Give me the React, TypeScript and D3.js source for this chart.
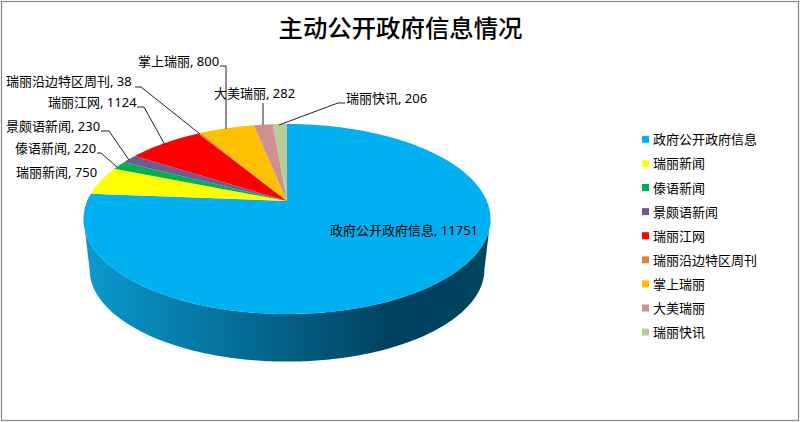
import React from "react";
import * as d3 from "d3";

const categories = ["政府公开政府信息", "瑞丽新闻", "傣语新闻", "景颇语新闻", "瑞丽江网", "瑞丽沿边特区周刊", "掌上瑞丽", "大美瑞丽", "瑞丽快讯"];
const values = [11751, 750, 220, 230, 1124, 38, 800, 282, 206];
const colors = ["#00B0F0", "#FFFF00", "#00B050", "#6F5A92", "#FF0000", "#DD8640", "#FFC000", "#CC9292", "#B9CD96"];
const title = "主动公开政府信息情况";

const labelX = [330, 16, 15, 6, 48, 6, 138, 214, 346];
const labelY = [230, 171.5, 148, 126, 101.5, 81, 60.5, 93, 98];
const leaderPts: ([number, number][] | null)[] = [
  null,
  null,
  [[97, 153], [101, 153]],
  [[101, 131], [109, 131]],
  [[137, 107], [144, 107]],
  [[135, 87], [141, 87]],
  [[220, 66], [226, 66]],
  [[263, 103]],
  [[345, 103], [338, 103]],
];
const leaderEnd: ([number, number] | null)[] = [null, null, [117, 167], [129, 160], [165, 145], [200, 134], [226, 129], [263, 125], [279, 125]];

const FONT = '"Noto Sans","Noto Sans CJK SC",sans-serif';
const CX = 287;
const CY = 201;
const K = 36 / 190;
const A = 91.6;
const B = 199.8;

// Perspective projection of the unit disc; angle runs clockwise from 12 o'clock.
const project = (a: number, r = 1, dy = 0, s = 1): [number, number] => {
  const u = r * Math.sin(a);
  const v = r * Math.cos(a);
  const w = 1 + K * v;
  return [CX + (s * B * u) / w, CY + dy + (s * A * v * -1) / w];
};

const pie = d3.pie<number>().sort(null).value((d) => d)(values);
const line = d3.line<[number, number]>();

const slicePath = (start: number, end: number) => {
  const n = Math.max(2, Math.ceil((end - start) / 0.01));
  const pts: [number, number][] = [[CX, CY]];
  for (let i = 0; i <= n; i++) pts.push(project(start + ((end - start) * i) / n));
  return line(pts) + "Z";
};

// Side wall: front half of the top rim, then back along the lower rim.
const a0 = Math.PI / 2 + Math.asin(K);
const a1 = (3 * Math.PI) / 2 - Math.asin(K);
const angles = d3.range(0, 201).map((i) => a0 + ((a1 - a0) * i) / 200);
const wall = line([
  ...angles.map((a) => project(a)),
  ...angles.slice().reverse().map((a) => project(a, 1, 51, 0.97)),
]) + "Z";

export default function App() {
  return (
    <svg width={800} height={422} style={{ position: "absolute", left: 0, top: 0, fontFamily: FONT }}>
      <defs>
        <linearGradient id="wall" gradientUnits="userSpaceOnUse" x1={83} x2={490} y1={0} y2={0}>
          <stop offset="0" stopColor="#0A9ACE" />
          <stop offset="0.76" stopColor="#00415F" />
          <stop offset="1" stopColor="#00455F" />
        </linearGradient>
      </defs>
      <rect x={1.5} y={1.5} width={797} height={419} fill="#fff" stroke="#868686" strokeWidth={1.2} />
      <text x={400.5} y={27} textAnchor="middle" dominantBaseline="central" fontSize={24.4} fill="#000" fontWeight={500}>{title}</text>
      <path d={wall} fill="url(#wall)" />
      {pie.map((d, i) => (
        <path key={categories[i]} d={slicePath(d.startAngle, d.endAngle)} fill={colors[i]} />
      ))}
      {categories.map((c, i) => {
        const head = leaderPts[i];
        const end = leaderEnd[i];
        return head && end ? (
          <path key={c} d={line([...head, end]) as string} fill="none" stroke="#222" strokeWidth={1} />
        ) : null;
      })}
      {categories.map((c, i) => (
        <text key={c} x={labelX[i]} y={labelY[i]} dominantBaseline="central" fontSize={13} fill="#000">
          {`${c}, ${values[i]}`}
        </text>
      ))}
      {categories.map((c, i) => {
        const y = 139.3 + i * 24.1;
        return (
          <g key={c}>
            <rect x={642} y={y - 3.5} width={7} height={7} fill={colors[i]} />
            <text x={653} y={y} dominantBaseline="central" fontSize={13} fill="#000">{c}</text>
          </g>
        );
      })}
    </svg>
  );
}
